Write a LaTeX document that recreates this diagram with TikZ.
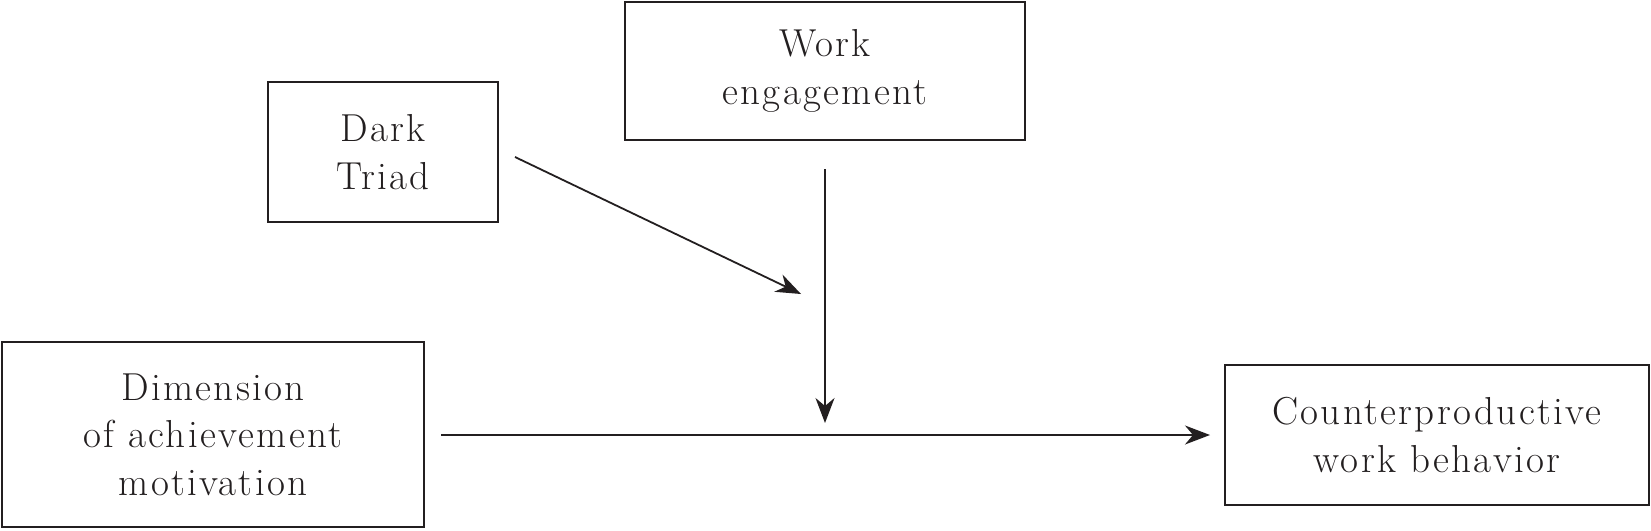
\documentclass[tikz,border=0pt]{standalone}
\usepackage{fontspec}
\setmainfont{Latin Modern Roman}[LetterSpace=6]
\usetikzlibrary{arrows.meta}
\definecolor{ink}{HTML}{231F20}
\begin{document}
\begin{tikzpicture}[x=1pt,y=-1pt,
  box/.style={draw=ink,line width=1.8pt,inner sep=0pt,align=center,text=ink,
    font=\fontsize{39}{47.5}\selectfont},
  conn/.style={draw=ink,line width=1.8pt,-{Stealth[length=25pt,width=19pt,inset=8pt]}}]
\useasboundingbox (0,0) rectangle (1651,530);
\node[box,minimum width=400pt,minimum height=138pt] (work) at (825,71) {Work\\engagement};
\node[box,minimum width=230pt,minimum height=140pt] (dark) at (383,152) {Dark\\Triad};
\node[box,minimum width=422pt,minimum height=185pt] (dim) at (213,434.5) {Dimension\\of achievement\\motivation};
\node[box,minimum width=424pt,minimum height=140pt] (cwb) at (1437,435) {Counterproductive\\work behavior};
\coordinate (d1) at (515,157);
\coordinate (d2) at (801,294);
\coordinate (v1) at (825,169);
\coordinate (v2) at (825,423);
\coordinate (h1) at (441,435);
\coordinate (h2) at (1210,435);
\draw[conn] (d1) -- (d2);
\draw[conn] (v1) -- (v2);
\draw[conn] (h1) -- (h2);
\end{tikzpicture}
\end{document}
